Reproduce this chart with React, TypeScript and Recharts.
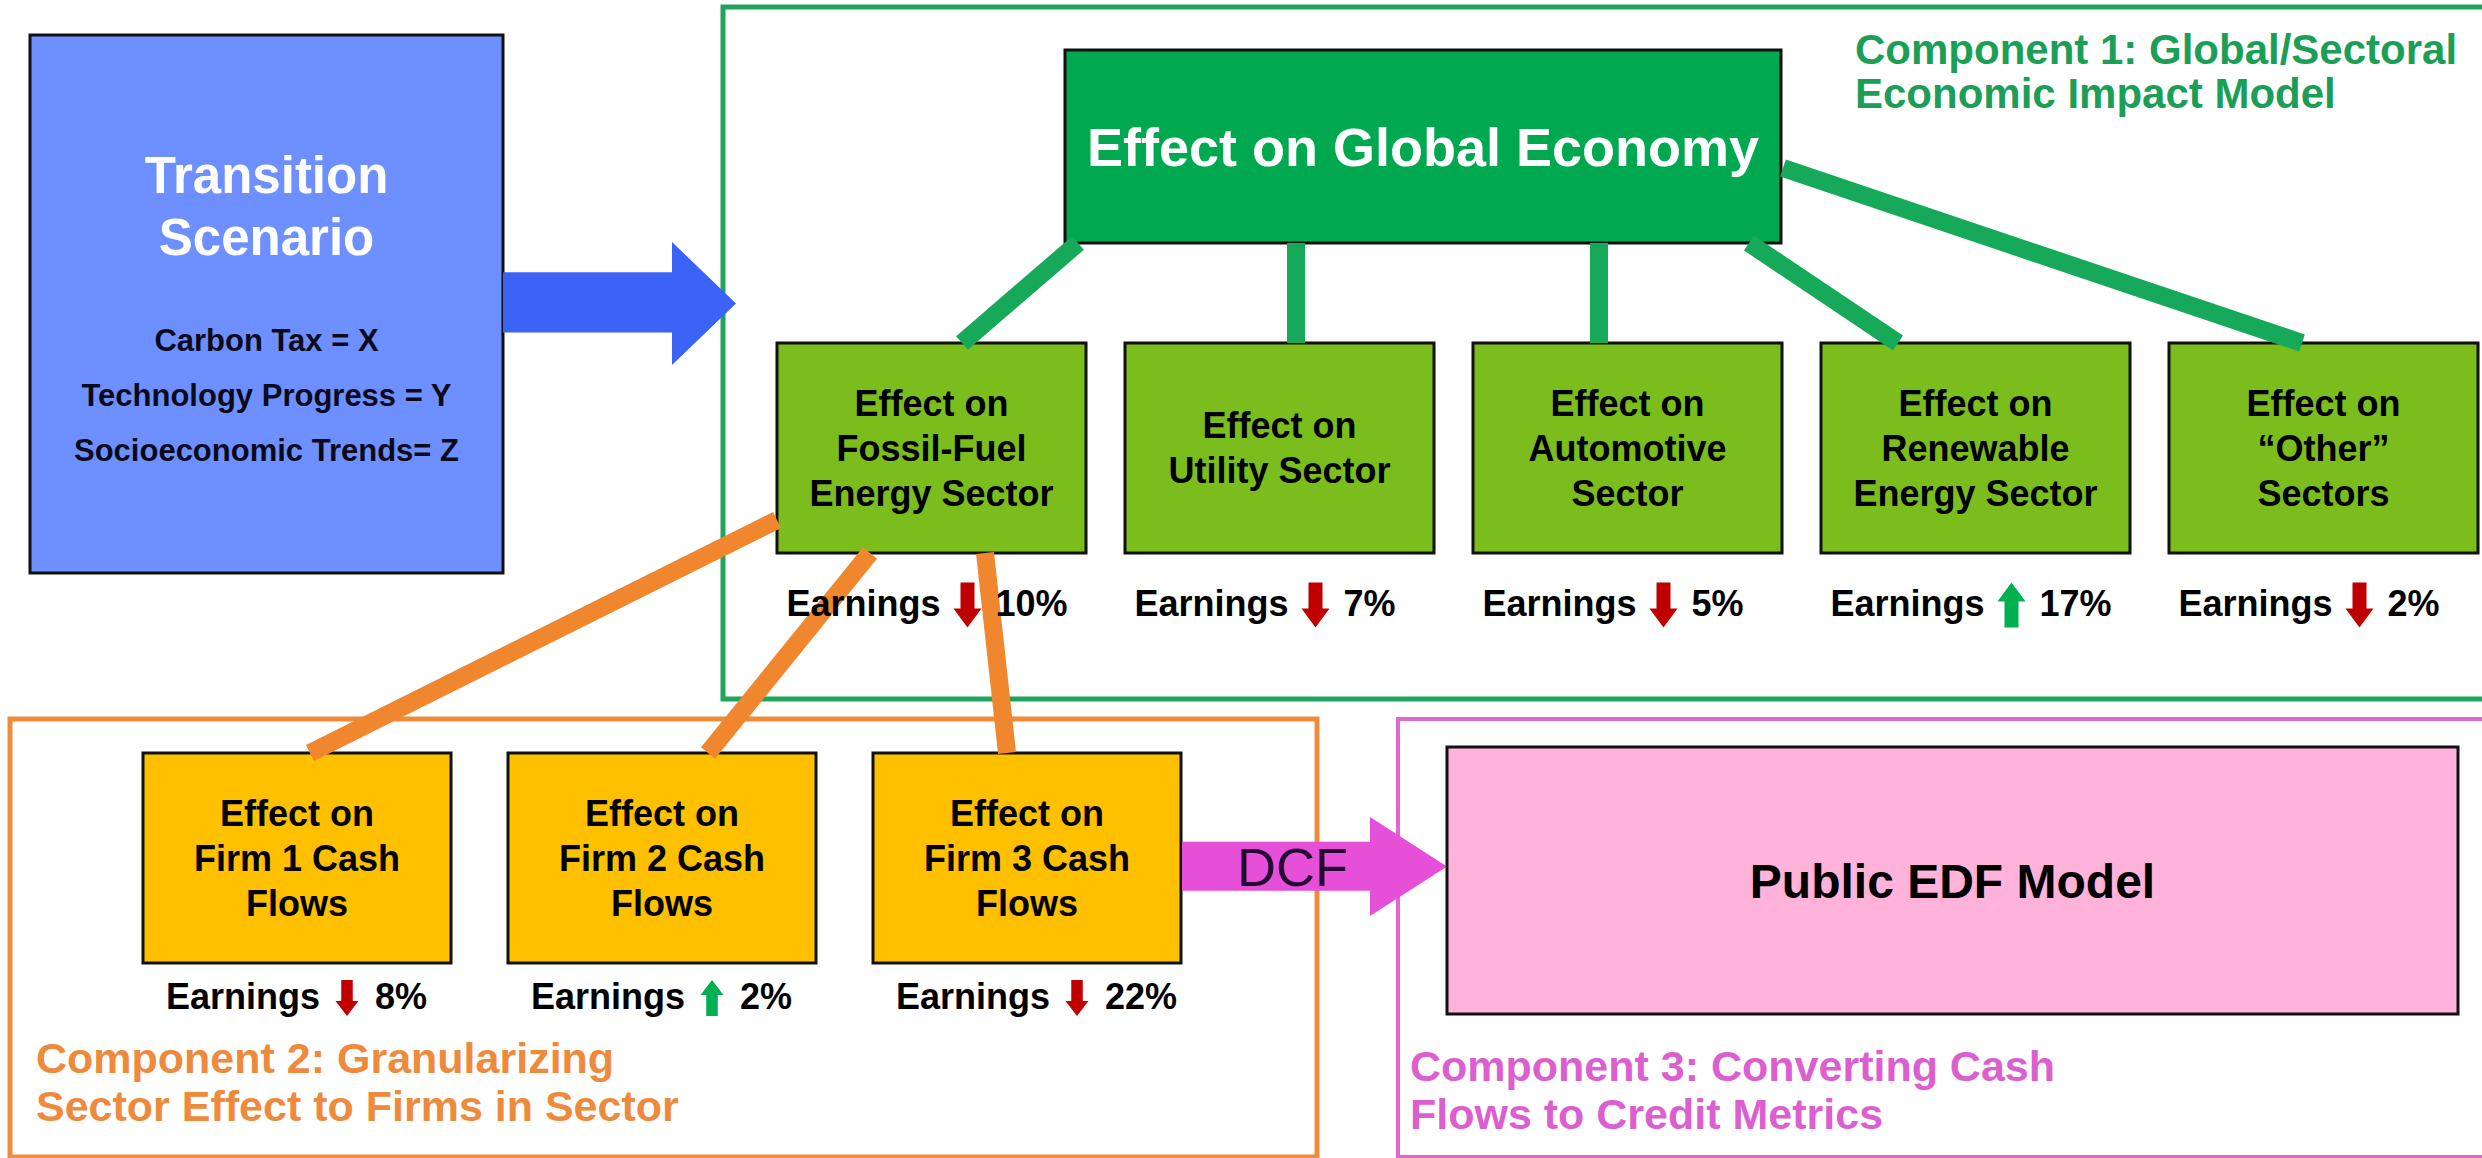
import React from "react";
import {
  ComposedChart,
  XAxis,
  YAxis,
  ReferenceArea,
  ReferenceLine,
  Scatter,
} from "recharts";

const W = 2482;
const H = 1158;
const FONT = "'Liberation Sans', Arial, Helvetica, sans-serif";

// ---- diagram content
const scenarioTitle = ["Transition", "Scenario"];
const scenarioDrivers = ["Carbon Tax = X", "Technology Progress = Y", "Socioeconomic Trends= Z"];
const globalEffect = ["Effect on Global Economy"];
const sectorLabels = [
  ["Effect on", "Fossil-Fuel", "Energy Sector"],
  ["Effect on", "Utility Sector"],
  ["Effect on", "Automotive", "Sector"],
  ["Effect on", "Renewable", "Energy Sector"],
  ["Effect on", "\u201COther\u201D", "Sectors"],
];
const sectorEarnings = [-10, -7, -5, 17, -2];
const firmLabels = [
  ["Effect on", "Firm 1 Cash", "Flows"],
  ["Effect on", "Firm 2 Cash", "Flows"],
  ["Effect on", "Firm 3 Cash", "Flows"],
];
const firmEarnings = [-8, 2, -22];
const edfModel = ["Public EDF Model"];
const dcfLabel = "DCF";
const componentTitles = [
  ["Component 1: Global/Sectoral", "Economic Impact Model"],
  ["Component 2: Granularizing", "Sector Effect to Firms in Sector"],
  ["Component 3: Converting Cash", "Flows to Credit Metrics"],
];

// ---- layout (diagram units = px)
const SECTOR = { x0: 777, step: 348, w: 309, y1: 343, y2: 553, rowY: 605, arrowDx: 36 };
const FIRM = { x0: 143, step: 365, w: 308, y1: 753, y2: 963, rowY: 998, arrowDx: 50 };

const greenLinks = [
  [1078, 243, 962, 343],
  [1296, 243, 1296, 343],
  [1599, 243, 1599, 343],
  [1749, 243, 1898, 343],
  [1783, 168, 2302, 343],
];
const orangeLinks = [
  [777, 520, 310, 753],
  [870, 553, 708, 753],
  [985, 553, 1007, 753],
];

const sectorRows = sectorEarnings.map((v, i) => ({
  x: SECTOR.x0 + i * SECTOR.step + SECTOR.w / 2 + SECTOR.arrowDx,
  y: SECTOR.rowY,
  value: v,
}));
const firmRows = firmEarnings.map((v, i) => ({
  x: FIRM.x0 + i * FIRM.step + FIRM.w / 2 + FIRM.arrowDx,
  y: FIRM.rowY,
  value: v,
}));

type Block = {
  lines: string[];
  size: number;
  lh: number;
  color: string;
  weight?: string;
  align?: "middle" | "start";
  dx?: number;
  base?: number; // first baseline offset from top of area; centred when omitted
};

function textBlock(b: Block, x: number, y: number, width: number, height: number, key?: string) {
  const cap = b.size * 0.716;
  const n = b.lines.length;
  const tx = (b.align === "start" ? x : x + width / 2) + (b.dx || 0);
  const first =
    b.base !== undefined ? y + b.base : y + height / 2 - ((n - 1) * b.lh) / 2 + cap / 2;
  return (
    <text
      key={key}
      x={tx}
      y={first}
      fill={b.color}
      fontFamily={FONT}
      fontWeight={b.weight || "bold"}
      fontSize={b.size}
      textAnchor={b.align === "start" ? "start" : "middle"}
    >
      {b.lines.map((l, i) => (
        <tspan key={i} x={tx} y={first + i * b.lh}>
          {l}
        </tspan>
      ))}
    </text>
  );
}

function boxShape(fill: string, stroke: string, sw: number, blocks: Block[]) {
  return (p: any) => {
    const { x, y, width, height } = p;
    return (
      <g>
        <rect x={x} y={y} width={width} height={height} fill={fill} stroke={stroke} strokeWidth={sw} />
        {blocks.map((b, i) => textBlock(b, x, y, width, height, String(i)))}
      </g>
    );
  };
}

function arrowShape(color: string, shaftTop: number, shaftBottom: number, headLen: number, label?: Block, labelDx = 0) {
  return (p: any) => {
    const { x, y, width, height } = p;
    const hb = x + width - headLen;
    const cy = y + height / 2;
    const st = y + height * shaftTop;
    const sb = y + height * shaftBottom;
    const pts = [
      [x, st], [hb, st], [hb, y], [x + width, cy], [hb, y + height], [hb, sb], [x, sb],
    ].map((q) => q.join(",")).join(" ");
    return (
      <g>
        <polygon points={pts} fill={color} />
        {label && textBlock({ ...label, dx: labelDx }, x, y, width, height)}
      </g>
    );
  };
}

function EarningsMark(props: any) {
  const { cx, cy, payload, aw, ah } = props;
  const up = payload.value > 0;
  const color = up ? "#00B050" : "#C00000";
  const base = cy + 11;
  const sw = aw * 0.5;
  const hh = ah * 0.42;
  const top = cy - ah / 2;
  const bot = cy + ah / 2;
  const pts = up
    ? [[cx, top], [cx + aw / 2, top + hh], [cx + sw / 2, top + hh], [cx + sw / 2, bot], [cx - sw / 2, bot], [cx - sw / 2, top + hh], [cx - aw / 2, top + hh]]
    : [[cx, bot], [cx + aw / 2, bot - hh], [cx + sw / 2, bot - hh], [cx + sw / 2, top], [cx - sw / 2, top], [cx - sw / 2, bot - hh], [cx - aw / 2, bot - hh]];
  return (
    <g>
      <text x={cx - 27} y={base} textAnchor="end" fontFamily={FONT} fontWeight="bold" fontSize={36} fill="#000">
        Earnings
      </text>
      <polygon points={pts.map((q) => q.join(",")).join(" ")} fill={color} />
      <text x={cx + 28} y={base} textAnchor="start" fontFamily={FONT} fontWeight="bold" fontSize={36} fill="#000">
        {Math.abs(payload.value)}%
      </text>
    </g>
  );
}

const frame = (color: string, sw: number) => boxShape("none", color, sw, []);

export default function App() {
  return (
    <div style={{ position: "absolute", left: 0, top: 0, width: W, height: H, background: "#fff" }}>
      <ComposedChart width={W} height={H} margin={{ top: 0, right: 0, bottom: 0, left: 0 }}>
        <XAxis type="number" dataKey="x" domain={[0, W]} allowDataOverflow hide />
        <YAxis type="number" dataKey="y" domain={[0, H]} allowDataOverflow reversed hide />

        {/* component frames */}
        <ReferenceArea x1={723} x2={2495} y1={7} y2={699} ifOverflow="visible" shape={frame("#1FA45A", 5)} />
        <ReferenceArea x1={10} x2={1317} y1={719} y2={1157} ifOverflow="visible" shape={frame("#EE8C3C", 5)} />
        <ReferenceArea x1={1398} x2={2495} y1={719} y2={1157} ifOverflow="visible" shape={frame("#DC68D0", 4)} />

        {/* connectors */}
        {greenLinks.map((l, i) => (
          <ReferenceLine
            key={`g${i}`}
            segment={[{ x: l[0], y: l[1] }, { x: l[2], y: l[3] }]}
            stroke="#17A95A"
            strokeWidth={18}
            ifOverflow="visible"
          />
        ))}
        {orangeLinks.map((l, i) => (
          <ReferenceLine
            key={`o${i}`}
            segment={[{ x: l[0], y: l[1] }, { x: l[2], y: l[3] }]}
            stroke="#F0862E"
            strokeWidth={18}
            ifOverflow="visible"
          />
        ))}

        {/* scenario box and arrow */}
        <ReferenceArea
          x1={30}
          x2={503}
          y1={35}
          y2={573}
          ifOverflow="visible"
          shape={boxShape("#6E8FFF", "#111", 3, [
            { lines: scenarioTitle, size: 51, lh: 62, color: "#fff", base: 158 },
            { lines: scenarioDrivers, size: 31, lh: 55, color: "#0a0a1a", base: 316 },
          ])}
        />
        <ReferenceArea x1={503} x2={736} y1={242} y2={365} ifOverflow="visible" shape={arrowShape("#3B64F7", 0.245, 0.735, 64)} />

        {/* global economy */}
        <ReferenceArea
          x1={1065}
          x2={1781}
          y1={50}
          y2={243}
          ifOverflow="visible"
          shape={boxShape("#00A94F", "#111", 3, [{ lines: globalEffect, size: 54, lh: 60, color: "#fff" }])}
        />

        {/* sectors */}
        {sectorLabels.map((lines, i) => (
          <ReferenceArea
            key={`s${i}`}
            x1={SECTOR.x0 + i * SECTOR.step}
            x2={SECTOR.x0 + i * SECTOR.step + SECTOR.w}
            y1={SECTOR.y1}
            y2={SECTOR.y2}
            ifOverflow="visible"
            shape={boxShape("#7CBD1E", "#111", 3, [{ lines, size: 36, lh: 45, color: "#000" }])}
          />
        ))}

        {/* firms */}
        {firmLabels.map((lines, i) => (
          <ReferenceArea
            key={`f${i}`}
            x1={FIRM.x0 + i * FIRM.step}
            x2={FIRM.x0 + i * FIRM.step + FIRM.w}
            y1={FIRM.y1}
            y2={FIRM.y2}
            ifOverflow="visible"
            shape={boxShape("#FFC000", "#111", 3, [{ lines, size: 36, lh: 45, color: "#000" }])}
          />
        ))}

        {/* DCF arrow and EDF model */}
        <ReferenceArea
          x1={1182}
          x2={1447}
          y1={817}
          y2={916}
          ifOverflow="visible"
          shape={arrowShape("#E650D8", 0.25, 0.745, 77, { lines: [dcfLabel], size: 54, lh: 54, color: "#250a35", weight: "normal" }, -22)}
        />
        <ReferenceArea
          x1={1447}
          x2={2458}
          y1={747}
          y2={1014}
          ifOverflow="visible"
          shape={boxShape("#FFB3DA", "#111", 3, [{ lines: edfModel, size: 48, lh: 50, color: "#000" }])}
        />

        {/* component titles */}
        <ReferenceArea x1={1855} x2={2470} y1={34} y2={120} ifOverflow="visible"
          shape={boxShape("none", "none", 0, [{ lines: componentTitles[0], size: 42, lh: 44, color: "#1B9E56", align: "start", base: 30 }])} />
        <ReferenceArea x1={36} x2={700} y1={1043} y2={1130} ifOverflow="visible"
          shape={boxShape("none", "none", 0, [{ lines: componentTitles[1], size: 43, lh: 48, color: "#EE8A3C", align: "start", base: 30 }])} />
        <ReferenceArea x1={1410} x2={2100} y1={1051} y2={1140} ifOverflow="visible"
          shape={boxShape("none", "none", 0, [{ lines: componentTitles[2], size: 43, lh: 48, color: "#DC5FD0", align: "start", base: 30 }])} />

        {/* earnings changes */}
        <Scatter data={sectorRows} isAnimationActive={false} shape={(p: any) => <EarningsMark {...p} aw={28} ah={45} />} />
        <Scatter data={firmRows} isAnimationActive={false} shape={(p: any) => <EarningsMark {...p} aw={23} ah={36} />} />
      </ComposedChart>
    </div>
  );
}
